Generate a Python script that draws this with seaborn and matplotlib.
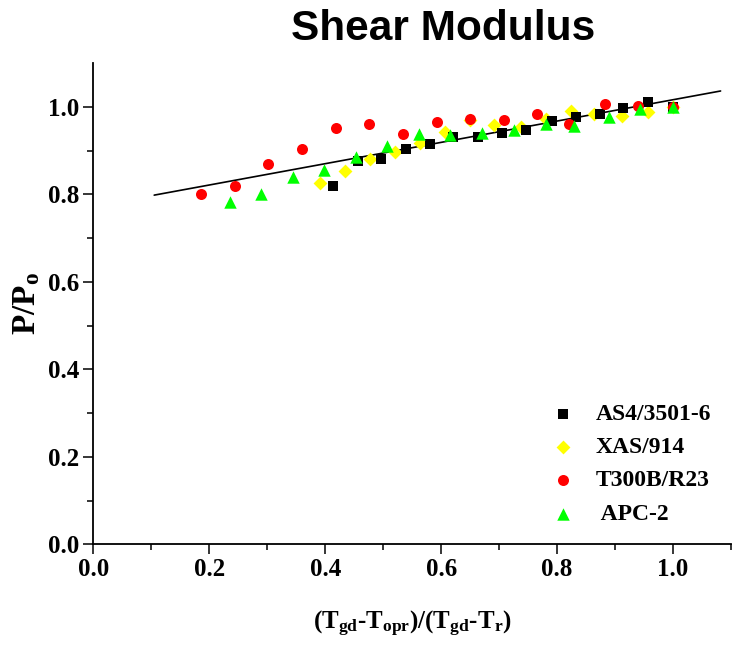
import matplotlib
matplotlib.use('Agg')
import matplotlib.pyplot as plt
from matplotlib.ticker import MultipleLocator, FixedLocator, FormatStrFormatter
import seaborn as sns

# values
as4_x = [0.414, 0.456, 0.497, 0.539, 0.580, 0.621, 0.663, 0.705, 0.747, 0.791, 0.833, 0.874, 0.914, 0.956, 1.0]
as4_y = [0.818, 0.875, 0.881, 0.904, 0.915, 0.930, 0.930, 0.941, 0.946, 0.968, 0.976, 0.983, 0.997, 1.011, 1.0]
xas_x = [0.391, 0.434, 0.478, 0.521, 0.564, 0.606, 0.649, 0.692, 0.738, 0.781, 0.824, 0.864, 0.912, 0.956, 1.0]
xas_y = [0.825, 0.853, 0.881, 0.896, 0.917, 0.942, 0.969, 0.958, 0.954, 0.973, 0.991, 0.983, 0.978, 0.989, 1.0]
t300_x = [0.186, 0.244, 0.302, 0.360, 0.418, 0.476, 0.534, 0.592, 0.650, 0.708, 0.766, 0.820, 0.882, 0.940, 1.0]
t300_y = [0.801, 0.820, 0.870, 0.903, 0.951, 0.960, 0.937, 0.964, 0.973, 0.969, 0.983, 0.960, 1.006, 1.002, 1.0]
apc_x = [0.235, 0.290, 0.344, 0.398, 0.453, 0.507, 0.561, 0.616, 0.671, 0.726, 0.781, 0.829, 0.889, 0.943, 1.0]
apc_y = [0.782, 0.801, 0.840, 0.855, 0.886, 0.911, 0.938, 0.935, 0.940, 0.946, 0.961, 0.957, 0.976, 0.995, 1.0]

# linear fit line (end points)
fit_x = [0.105, 1.082]
fit_y = [0.798, 1.036]

labels = ['AS4/3501-6', 'XAS/914', 'T300B/R23', ' APC-2']

sns.set_style('ticks')
plt.rcParams['font.family'] = ['Liberation Serif', 'DejaVu Serif']
plt.rcParams['font.weight'] = 'bold'
plt.rcParams['text.color'] = 'black'
plt.rcParams['axes.labelcolor'] = 'black'
plt.rcParams['mathtext.fontset'] = 'custom'
plt.rcParams['mathtext.rm'] = 'Liberation Serif:bold'
plt.rcParams['mathtext.it'] = 'Liberation Serif:bold'
plt.rcParams['mathtext.bf'] = 'Liberation Serif:bold'

fig = plt.figure(figsize=(7.39, 6.48), dpi=100)
ax = fig.add_axes([0.1263, 0.160, 0.8629, 0.7428])

# marker, colour, size, zorder
styles = [
    ('s', '#000000', 55, 3),
    ('D', '#ffff00', 50, 2),
    ('o', '#ff0000', 63, 4),
    ('^', '#00ff00', 80, 5),
]
data = [(as4_x, as4_y), (xas_x, xas_y), (t300_x, t300_y), (apc_x, apc_y)]

for (xs, ys), lab, (m, c, s, z) in zip(data, labels, styles):
    sns.scatterplot(x=xs, y=ys, marker=m, color=c, s=s, linewidth=0,
                    label=lab, zorder=z, ax=ax)

sns.lineplot(x=fit_x, y=fit_y, color='black', linewidth=1.2, ax=ax, zorder=1)

ax.set_xlim(0, 1.1)
ax.set_ylim(0, 1.1)
ax.xaxis.set_major_locator(MultipleLocator(0.2))
ax.xaxis.set_minor_locator(MultipleLocator(0.1))
ax.yaxis.set_major_locator(MultipleLocator(0.2))
ax.yaxis.set_minor_locator(FixedLocator([0.1, 0.3, 0.5, 0.7, 0.9]))
ax.xaxis.set_major_formatter(FormatStrFormatter('%.1f'))
ax.yaxis.set_major_formatter(FormatStrFormatter('%.1f'))

ax.tick_params(which='major', direction='out', length=7, width=1.1,
               labelsize=18, pad=3, color='black', labelcolor='black')
ax.tick_params(which='minor', direction='out', length=4, width=1.1, color='black')
for sp in ['top', 'right']:
    ax.spines[sp].set_visible(False)
for sp in ['left', 'bottom']:
    ax.spines[sp].set_linewidth(1.3)
    ax.spines[sp].set_color('black')

ax.set_xlabel('(T$_{gd}$-T$_{opr}$)/(T$_{gd}$-T$_{r}$)', fontsize=18,
              fontweight='bold', labelpad=20)
ax.set_ylabel('P/P$_{o}$', fontsize=24, fontweight='bold', labelpad=4)

fig.text(0.5995, 0.9383, 'Shear Modulus', family='Liberation Sans',
         fontsize=30.5, fontweight='bold', ha='center', va='baseline',
         color='black')

ax.legend(loc='upper left', bbox_to_anchor=(0.7165, 0.4105),
          bbox_transform=fig.transFigure, frameon=False,
          handlelength=1.0, handletextpad=0.9, labelspacing=0.5,
          borderpad=0.4, prop={'family': 'Liberation Serif',
                               'weight': 'bold', 'size': 17})

fig.savefig('out.png', dpi=100, facecolor='white')
